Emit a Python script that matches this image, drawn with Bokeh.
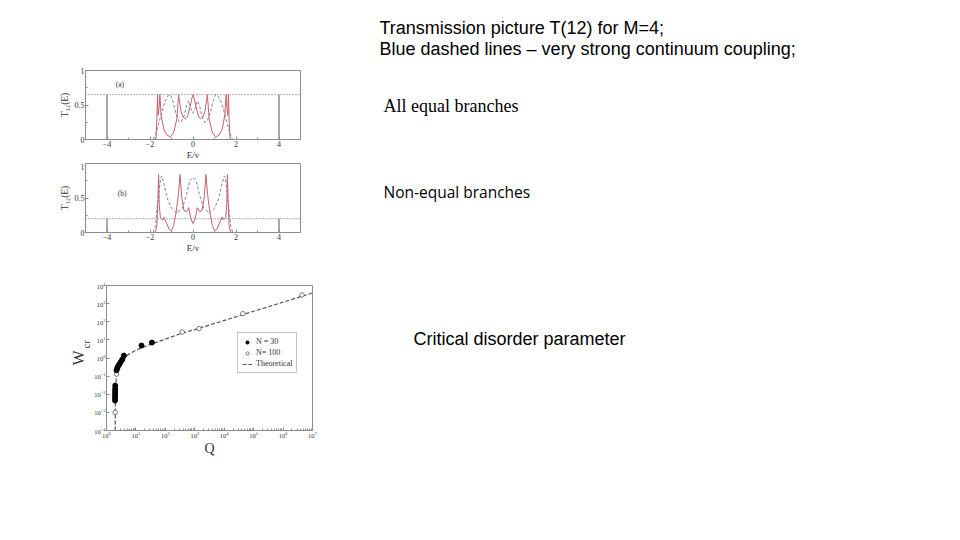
from bokeh.plotting import figure
from bokeh.layouts import column, row
from bokeh.models import Spacer, Range1d, FixedTicker, Label, Legend, LegendItem, Title
from bokeh.core.properties import value
from bokeh.embed import file_html
from bokeh.resources import INLINE

# ---------------- data ----------------
# slide texts
title_lines = ["Transmission picture T(12) for  M=4;",
               "Blue dashed lines \u2013 very strong continuum coupling;"]
label_equal = ["All equal branches"]
label_nonequal = ["Non-equal branches"]
label_critical = ["Critical disorder parameter"]

# panel (a): all equal branches
ea_red = [-1.80, -1.72, -1.68, -1.65, -1.62, -1.58, -1.54, -1.48, -1.35, -1.20, -1.05, -0.90, -0.75, -0.67,
          -0.60, -0.55, -0.45, -0.35, -0.25, -0.12, -0.05, 0.00, 0.05, 0.12, 0.25, 0.35, 0.45, 0.55, 0.60,
          0.67, 0.75, 0.90, 1.05, 1.20, 1.35, 1.48, 1.54, 1.58, 1.62, 1.65, 1.68, 1.72, 1.80]
ta_red = [0.00, 0.02, 0.30, 0.65, 0.35, 0.45, 0.65, 0.35, 0.14, 0.06, 0.04, 0.10, 0.30, 0.65,
          0.50, 0.40, 0.32, 0.30, 0.34, 0.50, 0.60, 0.65, 0.60, 0.50, 0.34, 0.30, 0.32, 0.40, 0.50,
          0.65, 0.30, 0.10, 0.04, 0.06, 0.14, 0.35, 0.65, 0.45, 0.35, 0.65, 0.30, 0.02, 0.00]
ea_blue = [-1.85, -1.75, -1.60, -1.45, -1.30, -1.15, -1.05, -0.95, -0.80, -0.65, -0.55, -0.40, -0.30, -0.20,
           -0.10, 0.00, 0.10, 0.20, 0.30, 0.40, 0.55, 0.65, 0.80, 0.95, 1.05, 1.15, 1.30, 1.45, 1.60, 1.75, 1.85]
ta_blue = [0.00, 0.06, 0.22, 0.40, 0.55, 0.64, 0.65, 0.58, 0.38, 0.26, 0.25, 0.35, 0.50, 0.56,
           0.45, 0.38, 0.45, 0.56, 0.50, 0.35, 0.25, 0.26, 0.38, 0.58, 0.65, 0.64, 0.55, 0.40, 0.22, 0.06, 0.00]

# panel (b): non-equal branches
eb_red = [-1.75, -1.68, -1.63, -1.60, -1.57, -1.52, -1.42, -1.35, -1.25, -1.10, -1.00, -0.90, -0.78, -0.68,
          -0.60, -0.52, -0.42, -0.30, -0.20, -0.10, 0.00, 0.10, 0.20, 0.30, 0.42, 0.52, 0.60, 0.68, 0.78,
          0.90, 1.00, 1.10, 1.25, 1.35, 1.42, 1.52, 1.57, 1.60, 1.63, 1.68, 1.75]
tb_red = [0.00, 0.10, 0.50, 0.84, 0.40, 0.22, 0.18, 0.22, 0.15, 0.04, 0.03, 0.10, 0.30, 0.55,
          0.84, 0.50, 0.32, 0.30, 0.36, 0.20, 0.13, 0.20, 0.36, 0.30, 0.32, 0.50, 0.84, 0.55, 0.30,
          0.10, 0.03, 0.04, 0.15, 0.22, 0.18, 0.22, 0.40, 0.84, 0.50, 0.10, 0.00]
eb_blue = [-1.85, -1.75, -1.62, -1.50, -1.45, -1.35, -1.20, -1.00, -0.75, -0.50, -0.30, -0.15, 0.00,
           0.15, 0.30, 0.50, 0.75, 1.00, 1.20, 1.35, 1.45, 1.50, 1.62, 1.75, 1.85]
tb_blue = [0.00, 0.10, 0.50, 0.80, 0.82, 0.70, 0.50, 0.35, 0.28, 0.35, 0.55, 0.75, 0.80,
           0.75, 0.55, 0.35, 0.28, 0.35, 0.50, 0.70, 0.82, 0.80, 0.50, 0.10, 0.00]

lead_e = [-4, 4]
level_a = 0.65
level_b = 0.20

# panel (c): critical disorder parameter
q30 = [1.95, 1.95, 1.96, 1.96, 1.97, 1.97, 1.98, 2.19, 2.30, 2.45, 2.70, 3.00, 3.40, 3.90, 15.5, 35.0]
w30 = [0.0045, 0.006, 0.008, 0.011, 0.015, 0.02, 0.03, 0.21, 0.27, 0.34, 0.44, 0.58, 0.81, 1.35, 4.9, 7.1]
q100 = [1.98, 2.19, 3.6, 375.0, 1400.0, 4.3e4, 4.4e6]
w100 = [0.001, 0.13, 0.9, 27.0, 42.0, 280.0, 3000.0]
q_th = [1.98, 1.985, 1.99, 2.0, 2.02, 2.06, 2.15, 2.3, 2.6, 3.0, 3.6, 4.5, 6.0, 10.0, 20.0, 40.0, 100.0,
        300.0, 1e3, 1e4, 1e5, 1e6, 1e7]
w_th = [1e-4, 3e-4, 1e-3, 3e-3, 1e-2, 3e-2, 0.08, 0.16, 0.33, 0.55, 0.85, 1.2, 1.7, 2.7, 4.2, 6.5, 11.0,
        21.0, 37.0, 118.0, 380.0, 1200.0, 3900.0]
legend_labels = ["N = 30", "N= 100", "Theoretical"]

# ---------------- styles ----------------
SERIF = "Liberation Serif"
FRAME = "#8c8c8c"
INK = "#333333"
RED = "#c4606b"
BLUE = "#7d8696"
NB = "\u00a0"


def style_axes(p, label_size="8px"):
    p.grid.visible = False
    p.outline_line_color = FRAME
    for ax in (p.xaxis[0], p.yaxis[0]):
        ax.axis_line_color = FRAME
        ax.major_tick_line_color = FRAME
        ax.minor_tick_line_color = FRAME
        ax.major_tick_in = 3
        ax.major_tick_out = 0
        ax.minor_tick_in = 2
        ax.minor_tick_out = 0
        ax.major_label_text_font = SERIF
        ax.major_label_text_font_size = label_size
        ax.major_label_text_color = INK
        ax.major_label_standoff = 1
        ax.axis_label_text_font = SERIF
        ax.axis_label_text_font_style = "normal"
        ax.axis_label_text_color = INK
        ax.axis_label_standoff = 0


def t_panel(top, bottom, e_red, t_red, e_blue, t_blue, level, tag, tag_e, tag_t):
    p = figure(x_range=Range1d(-5, 5), y_range=Range1d(0, 1), frame_width=215, frame_height=69,
               min_border_left=85, min_border_right=38, min_border_top=top, min_border_bottom=bottom,
               output_backend="svg", toolbar_location=None)
    style_axes(p)
    p.xaxis.ticker = FixedTicker(ticks=[-4, -2, 0, 2, 4], minor_ticks=[-3, -1, 1, 3])
    p.yaxis.ticker = FixedTicker(ticks=[0, 0.5, 1], minor_ticks=[0.25, 0.75])
    p.xaxis.axis_label = "E/v"
    p.yaxis.axis_label = "T\u2081\u2082(E)"
    p.xaxis.axis_label_text_font_size = "9px"
    p.yaxis.axis_label_text_font_size = "9.5px"
    p.yaxis.axis_label_standoff = 2
    p.segment(x0=lead_e, y0=[0, 0], x1=lead_e, y1=[level, level], line_color="#555555", line_width=1)
    p.line(x=[-5, 5], y=[level, level], line_color="#666666", line_dash="1 2", line_width=1)
    p.line(x=e_blue, y=t_blue, line_color=BLUE, line_dash="3 2", line_width=1)
    p.line(x=e_red, y=t_red, line_color=RED, line_width=1)
    p.add_layout(Label(x=tag_e, y=tag_t, text=tag, text_font=SERIF, text_font_size="7.5px",
                       text_color=INK, text_baseline="middle", text_align="center"))
    return p


fa = t_panel(70, 24, ea_red, ta_red, ea_blue, ta_blue, level_a, "(a)", -3.4, 0.79)
fb = t_panel(0, 24, eb_red, tb_red, eb_blue, tb_blue, level_b, "(b)", -3.3, 0.56)

# critical disorder panel
fc = figure(x_axis_type="log", y_axis_type="log", x_range=Range1d(1, 1e7), y_range=Range1d(1e-4, 1e4),
            frame_width=206, frame_height=145, min_border_left=85, min_border_right=26, min_border_top=12,
            min_border_bottom=31, output_backend="svg", toolbar_location=None)
style_axes(fc, label_size="6.5px")
fc.xaxis.ticker = FixedTicker(ticks=[10.0 ** k for k in range(0, 8)],
                              minor_ticks=[m * 10.0 ** k for k in range(0, 7) for m in range(2, 10)])
fc.yaxis.ticker = FixedTicker(ticks=[10.0 ** k for k in range(-4, 5)])
fc.xaxis.axis_label = "Q"
fc.xaxis.axis_label_text_font_size = "14px"
fc.xaxis.axis_label_standoff = 0
fc.yaxis.axis_label = None

t_cr = Title(text=NB * 11 + "cr", align="center", text_font=SERIF, text_font_size="10px",
             text_font_style="normal", text_color=INK, standoff=0)
try:
    t_w = Title(text="W", align="center", text_font=SERIF, text_font_size="16px",
                text_font_style="normal", text_color=INK, standoff=-16)
except Exception:
    t_w = Title(text="W", align="center", text_font=SERIF, text_font_size="16px",
                text_font_style="normal", text_color=INK, standoff=0)
fc.add_layout(t_cr, "left")
fc.add_layout(t_w, "left")

r_th = fc.line(x=q_th, y=w_th, line_color="#555555", line_dash="4 2", line_width=1.2)
r100 = fc.scatter(x=q100, y=w100, marker="circle", size=4.5, fill_color="white", line_color="#777777")
r30 = fc.scatter(x=q30, y=w30, marker="circle", size=5, fill_color="black", line_color="black")

leg = Legend(items=[LegendItem(label=legend_labels[0], renderers=[r30]),
                    LegendItem(label=legend_labels[1], renderers=[r100]),
                    LegendItem(label=legend_labels[2], renderers=[r_th])],
             location=(131, 57), label_text_font=SERIF, label_text_font_size="8px",
             label_text_color=INK, glyph_width=10, glyph_height=8, label_height=9,
             spacing=2, padding=4, margin=0, border_line_color=FRAME, label_standoff=4)
fc.add_layout(leg)

# right-hand slide text
ft = figure(x_range=Range1d(0, 622), y_range=Range1d(540, 0), width=622, height=540,
            output_backend="svg", toolbar_location=None, min_border=0)
ft.axis.visible = False
ft.grid.visible = False
ft.outline_line_color = None
ft.text(x=[41, 41], y=[27, 48], text=title_lines, text_font=value("Liberation Sans"),
        text_font_size="18px", text_color="black", text_baseline="middle")
ft.text(x=[45], y=[105], text=label_equal, text_font=value("Liberation Serif"),
        text_font_size="18px", text_color="black", text_baseline="middle")
ft.text(x=[45], y=[191], text=label_nonequal, text_font=value("Open Sans"),
        text_font_size="15.5px", text_color="black", text_baseline="middle")
ft.text(x=[75], y=[338], text=label_critical, text_font=value("Liberation Sans"),
        text_font_size="18px", text_color="black", text_baseline="middle")

left = column(fa, fb, Spacer(width=338, height=17), row(Spacer(width=21, height=188), fc, spacing=0),
              spacing=0)
layout = row(left, ft, spacing=0)

open("out.html", "w").write(file_html(layout, INLINE))
